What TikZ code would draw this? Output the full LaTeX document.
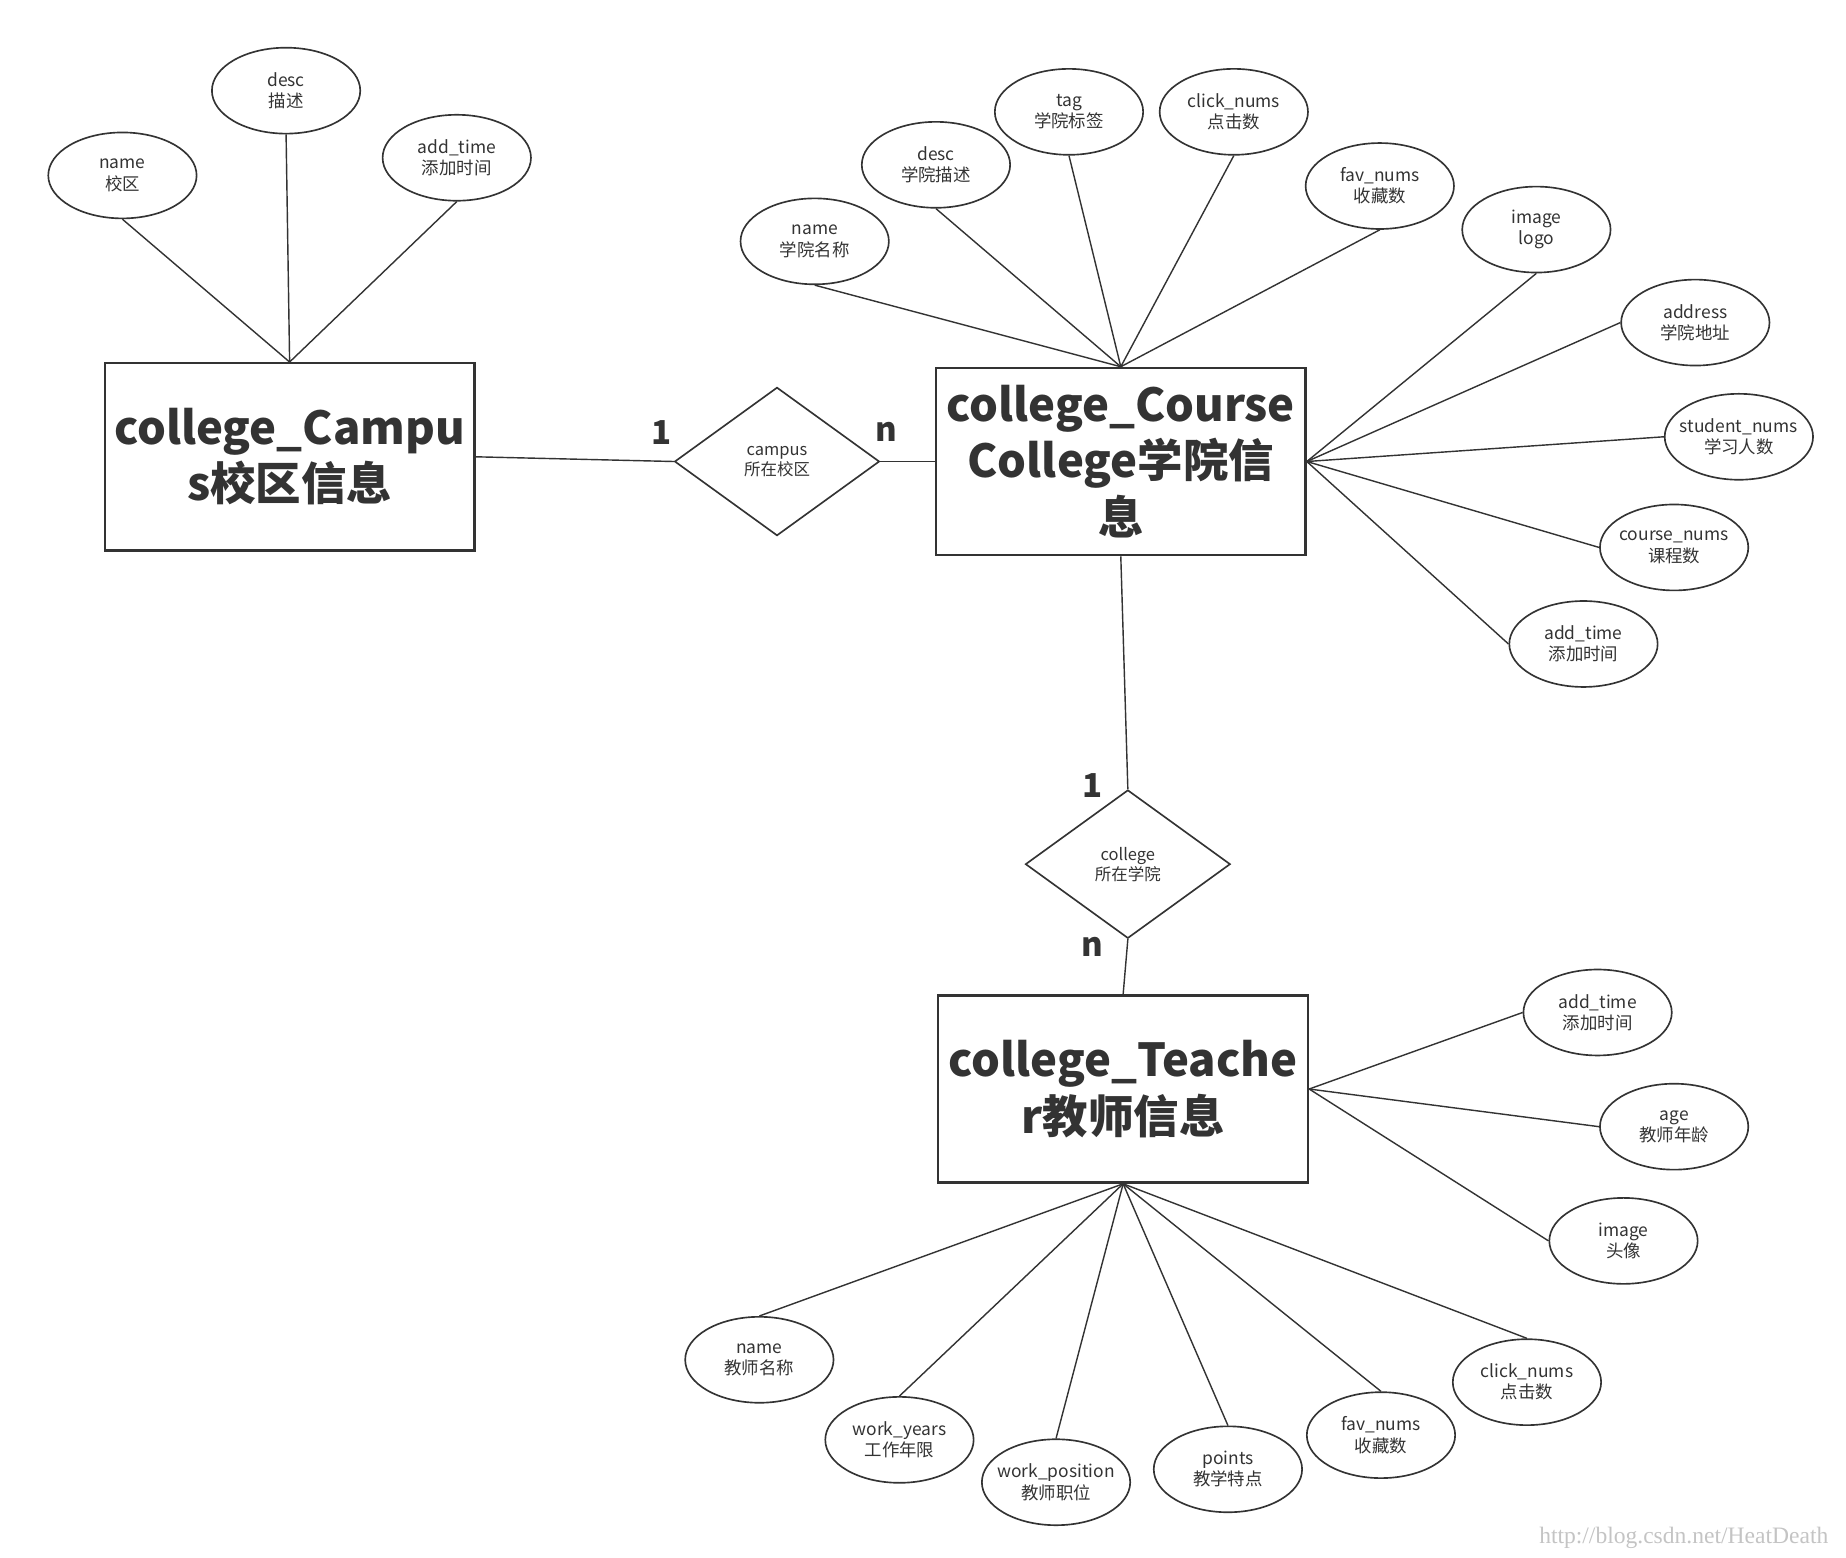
\documentclass[tikz,border=0pt]{standalone}
\usepackage{fontspec}
\setmainfont{Noto Sans CJK SC}
\usepackage{tikz}
\usetikzlibrary{shapes.geometric}
\definecolor{erline}{HTML}{333333}
\definecolor{ertext}{HTML}{333333}
\definecolor{markgrey}{HTML}{C4C4C4}

\begin{document}
\begin{tikzpicture}[x=0.5pt,y=-0.5pt,
    attr/.style={draw=erline,line width=0.7pt,ellipse,minimum width=63pt,minimum height=36.5pt,
                 inner sep=-5pt,align=center,text=ertext,font=\fontsize{7.4}{9}\selectfont},
    entity/.style={draw=erline,line width=1pt,rectangle,minimum width=157pt,minimum height=79.5pt,
                   inner sep=0pt,align=center,text=ertext,font=\fontsize{19.3}{24}\selectfont\bfseries},
    rel/.style={draw=erline,line width=0.7pt,diamond,minimum width=87pt,minimum height=63pt,
                inner sep=0pt,align=center,text=ertext,font=\fontsize{7}{8.5}\selectfont},
    card/.style={text=ertext,font=\fontsize{14}{14}\selectfont\bfseries},
    link/.style={draw=erline,line width=0.6pt}]
  \useasboundingbox (0,0) rectangle (1568,1323);

  % Campus entity
  \node[entity] (campus) at (246,388) {college\_Campu\\s校区信息};
  \node[attr] (cpName) at (104,149) {name\\校区};
  \node[attr] (cpDesc) at (243,77) {desc\\描述};
  \node[attr] (cpTime) at (388,134) {add\_time\\添加时间};
  \draw[link] (cpName.south) -- (campus.north);
  \draw[link] (cpDesc.south) -- (campus.north);
  \draw[link] (cpTime.south) -- (campus.north);

  % Course college entity
  \node[entity] (college) at (952,392) {college\_Course\\College学院信\\息};
  \node[attr] (clName) at (692,205) {name\\学院名称};
  \node[attr] (clDesc) at (795,140) {desc\\学院描述};
  \node[attr] (clTag) at (908,95) {tag\\学院标签};
  \node[attr] (clClick) at (1048,95) {click\_nums\\点击数};
  \node[attr] (clFav) at (1172,158) {fav\_nums\\收藏数};
  \node[attr] (clImage) at (1305,195) {image\\logo};
  \node[attr] (clAddr) at (1440,274) {address\\学院地址};
  \node[attr] (clStudent) at (1477,371) {student\_nums\\学习人数};
  \node[attr] (clCourse) at (1422,465) {course\_nums\\课程数};
  \node[attr] (clTime) at (1345,547) {add\_time\\添加时间};
  \foreach \a in {clName,clDesc,clTag,clClick,clFav}
    \draw[link] (\a.south) -- (college.north);
  \draw[link] (clImage.south) -- (college.east);
  \foreach \a in {clAddr,clStudent,clCourse,clTime}
    \draw[link] (\a.west) -- (college.east);

  % Campus relation
  \node[rel] (rCampus) at (660,392) {campus\\所在校区};
  \draw[link] (campus.east) -- (rCampus.west);
  \draw[link] (rCampus.east) -- (college.west);
  \node[card] at (562,367) {1};
  \node[card] at (753,367) {n};

  % College relation
  \node[rel] (rCollege) at (958,734) {college\\所在学院};
  \draw[link] (college.south) -- (rCollege.north);
  \node[card] at (928,667) {1};
  \node[card] at (928,804) {n};

  % Teacher entity
  \node[entity] (teacher) at (954,925) {college\_Teache\\r教师信息};
  \draw[link] (rCollege.south) -- (teacher.north);
  \node[attr] (tcTime) at (1357,860) {add\_time\\添加时间};
  \node[attr] (tcAge) at (1422,957) {age\\教师年龄};
  \node[attr] (tcImage) at (1379,1054) {image\\头像};
  \node[attr] (tcName) at (645,1155) {name\\教师名称};
  \node[attr] (tcYears) at (764,1223) {work\_years\\工作年限};
  \node[attr] (tcPos) at (897,1259) {work\_position\\教师职位};
  \node[attr] (tcPoints) at (1043,1248) {points\\教学特点};
  \node[attr] (tcFav) at (1173,1219) {fav\_nums\\收藏数};
  \node[attr] (tcClick) at (1297,1174) {click\_nums\\点击数};
  \foreach \a in {tcTime,tcAge,tcImage}
    \draw[link] (\a.west) -- (teacher.east);
  \foreach \a in {tcName,tcYears,tcPos,tcPoints,tcFav,tcClick}
    \draw[link] (\a.north) -- (teacher.south);

  % Watermark
  \node[text=markgrey,font=\fontspec{Liberation Serif}\fontsize{10}{10}\selectfont,anchor=east] (mark) at (1560,1306) {http://blog.csdn.net/HeatDeath};
\end{tikzpicture}
\end{document}
